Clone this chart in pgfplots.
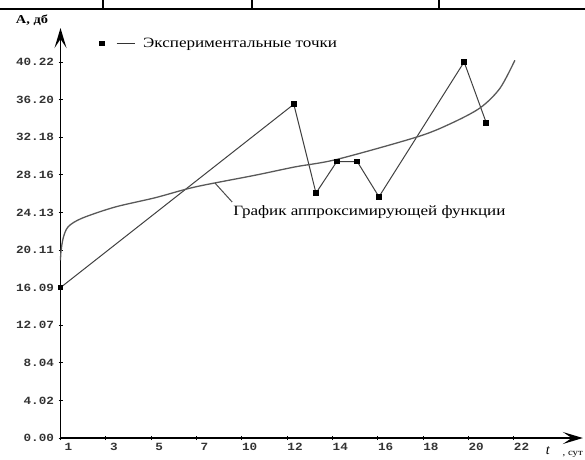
\documentclass[border=0pt]{standalone}
\usepackage{fontspec}
\setmainfont{Liberation Serif}
\newfontfamily\txt[FakeStretch=1.2]{Liberation Serif}
\newfontfamily\mono[FakeStretch=1.15]{Liberation Mono}
\usepackage{pgfplots}
\pgfplotsset{compat=1.18}
\usetikzlibrary{arrows.meta}

\begin{document}
\begin{tikzpicture}
\useasboundingbox (0pt,0pt) rectangle (585pt,459pt);
\clip (0pt,0pt) rectangle (585pt,459pt);
% table borders at the top of the scan
\draw[line width=2pt] (0pt,449.5pt) -- (585pt,449.5pt);
\foreach \xx in {103,252,439} \draw[line width=2pt] (\xx pt,449.5pt) -- (\xx pt,460pt);
\begin{axis}[
  at={(60.5pt,21pt)}, anchor=origin,
  x=45.3pt, y=9.349pt,
  xmin=0, xmax=11.53, ymin=0, ymax=43.85,
  axis lines=left, clip=false,
  axis line style={line width=1.6pt, -{Stealth[length=20pt,width=12pt,inset=9pt]}},
  major tick length=4pt, tick align=center,
  tick style={black, line width=0.8pt},
  xtick={0,1,2,3,4,5,6,7,8,9,10},
  xticklabels={1,3,5,7,10,12,14,16,18,20,22},
  ytick={0,4.02,8.04,12.07,16.09,20.11,24.13,28.16,32.18,36.20,40.22},
  yticklabels={0.00,4.02,8.04,12.07,16.09,20.11,24.13,28.16,32.18,36.20,40.22},
  xticklabel style={font=\mono\fontsize{11}{12}\selectfont\bfseries, text=black!80, anchor=north, xshift=8pt, yshift=0pt},
  yticklabel style={font=\mono\fontsize{11}{12}\selectfont\bfseries, text=black!80, anchor=east, xshift=-1pt},
  legend style={at={(axis cs:0.85,42.2)}, anchor=west, draw=none, fill=none,
    inner xsep=0pt, inner ysep=0pt, font=\txt\fontsize{14.2}{16}\selectfont},
]
\addplot[black!75, line width=1pt, mark=square*, mark size=2.4pt, mark options={black, solid}]
  coordinates {(0,16.09) (5.15,35.7) (5.64,26.2) (6.10,29.57) (6.55,29.57) (7.03,25.8) (8.91,40.22) (9.40,33.7)};
\addlegendentry{Экспериментальные точки}
\pgfplotsset{legend image code/.code={
  \fill[black] (0pt,-2.4pt) rectangle (4.8pt,2.4pt);
  \draw[line width=1pt, black!80] (17pt,0pt) -- (35pt,0pt);
  \path (41pt,0pt);}}
\addplot[black!65, line width=1.3pt, smooth, forget plot]
  coordinates {(0.0,19.0) (0.01,19.9) (0.06,21.4) (0.17,22.6) (0.47,23.5) (1.20,24.7) (2.09,25.7) (2.97,26.85) (4.29,28.1) (5.18,29.0) (6.10,29.8) (7.87,32.2) (8.60,33.6) (9.26,35.3) (9.70,37.4) (10.03,40.4)};
\draw[black!70, line width=1pt] (axis cs:3.79,25.24) -- (axis cs:3.41,27.27);
\node[anchor=west, inner sep=0pt, font=\txt\fontsize{14.2}{16}\selectfont] at (axis cs:3.81,24.17) {График аппроксимирующей функции};
\node[inner sep=0pt, font=\txt\fontsize{12}{14}\selectfont\bfseries] at (axis cs:-0.63,44.7) {A, дб};
\node[inner sep=0pt, font=\fontsize{14}{16}\selectfont\itshape] at (axis cs:10.76,-1.4) {t};
\node[anchor=west, inner sep=0pt, font=\txt\fontsize{9}{11}\selectfont] at (axis cs:11.08,-1.75) {, сут};
\end{axis}
\end{tikzpicture}
\end{document}
